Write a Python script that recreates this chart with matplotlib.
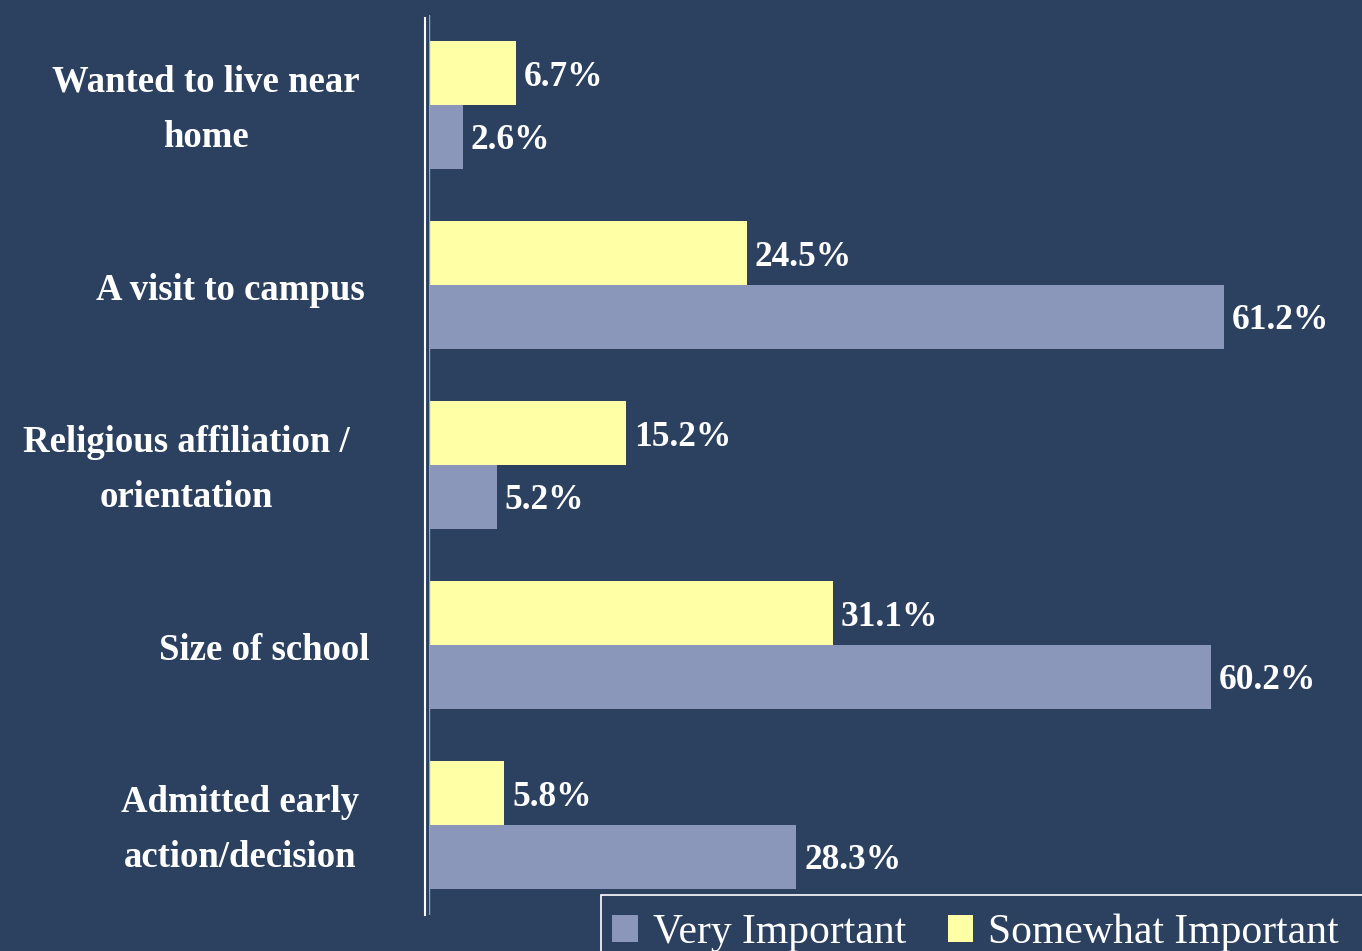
import matplotlib
matplotlib.use("Agg")
import matplotlib.pyplot as plt
from matplotlib.patches import Patch, Rectangle

categories = ["Wanted to live near\nhome", "A visit to campus", "Religious affiliation /\norientation",
              "Size of school", "Admitted early\naction/decision"]
somewhat = [6.7, 24.5, 15.2, 31.1, 5.8]
very = [2.6, 61.2, 5.2, 60.2, 28.3]
series_names = ["Very Important", "Somewhat Important"]

# layout (pixel x-centre of each category label)
label_x_px = [206, 230, 186, 264, 240]

BG = "#2C4160"
GREY = "#8A96BA"
YELLOW = "#FFFFA6"
W, H = 1362, 951

plt.rcParams['font.family'] = ['Liberation Serif', 'DejaVu Serif']
fig = plt.figure(figsize=(W / 100, H / 100), dpi=100, facecolor=BG)
ax = fig.add_axes([429 / W, 1 - 915 / H, 909 / W, 900 / H])
ax.set_facecolor(BG)

h = 0.355
ys = list(range(len(categories)))
ax.barh([y - h / 2 for y in ys], somewhat, height=h, color=YELLOW, align='center')
ax.barh([y + h / 2 for y in ys], very, height=h, color=GREY, align='center')

for y, v in zip(ys, somewhat):
    ax.text(v + 0.6, y - h / 2, f"{v:.1f}%", va='center_baseline', ha='left', color='white',
            fontsize=25.5, fontweight='bold')
for y, v in zip(ys, very):
    ax.text(v + 0.6, y + h / 2, f"{v:.1f}%", va='center_baseline', ha='left', color='white',
            fontsize=25.5, fontweight='bold')

ax.set_xlim(0, 70)
ax.set_ylim(4.5, -0.5)
ax.set_xticks([])
ax.set_yticks([])
for s in ['top', 'right', 'bottom']:
    ax.spines[s].set_visible(False)
ax.spines['left'].set_color('white')
ax.spines['left'].set_linewidth(1.5)
ax.spines['left'].set_position(('outward', 3))
ax.spines['left'].set_bounds(-0.5 + 3 / 180, 4.5)
ax.axvline(0, color='#9AA3B8', lw=1)

for y, lab, xp in zip(ys, categories, label_x_px):
    fy = ax.transData.transform((0, y))[1] / H - 5 / H
    fig.text(xp / W, fy, lab, ha='center', va='center', multialignment='center',
             color='white', fontsize=26.5, fontweight='bold', linespacing=1.75)

# legend frame running off the right edge
fig.patches.append(Rectangle((601 / W, -0.05), (W + 20 - 601) / W, 0.05 + (951 - 895) / H,
                             transform=fig.transFigure, facecolor=BG, edgecolor='white',
                             linewidth=1.2, zorder=2))
handles = [Patch(facecolor=GREY, edgecolor='none'), Patch(facecolor=YELLOW, edgecolor='none')]
leg = fig.legend(handles, series_names, loc='upper left', bbox_to_anchor=(601 / W, 1 - 902 / H),
                 ncol=2, frameon=False, fontsize=30,
                 labelcolor='white', handlelength=0.62, handleheight=0.62, handletextpad=0.35,
                 columnspacing=1.0, borderpad=0.27, borderaxespad=0)
leg.set_zorder(3)

fig.savefig("out.png", dpi=100, facecolor=BG)
